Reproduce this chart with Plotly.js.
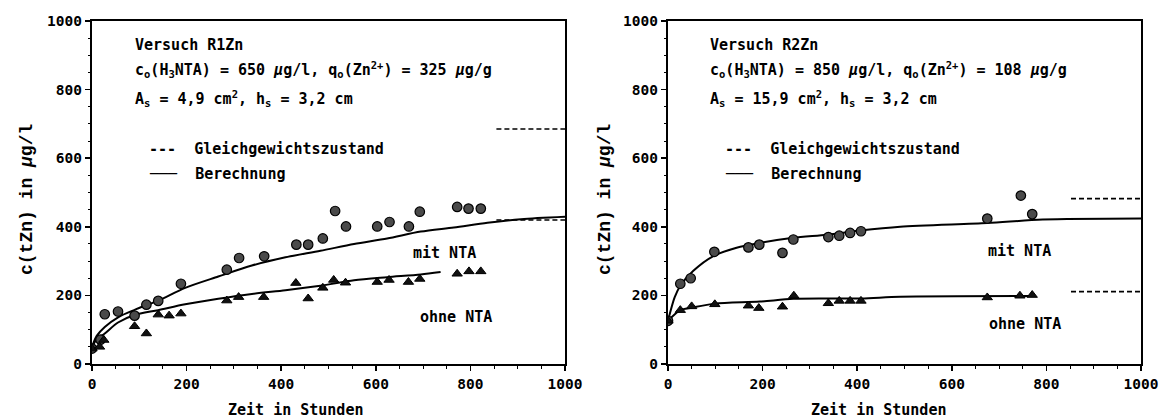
<!DOCTYPE html>
<html>
<head>
<meta charset="utf-8">
<script src="https://cdn.plot.ly/plotly-3.0.1.min.js"></script>
<style>html,body{margin:0;padding:0;background:#fff;}#plot{width:1167px;height:419px;}</style>
</head>
<body>
<div id="plot"></div>
<script>
// ---------- Data: Versuch R1Zn (left) ----------
var r1MitX = [0, 18, 27, 55, 90, 115, 140, 188, 285, 311, 364, 432, 457, 488, 514, 537, 603, 629, 670, 693, 772, 796, 822];
var r1MitY = [45, 71, 145, 153, 141, 173, 184, 234, 275, 309, 314, 348, 348, 366, 446, 401, 401, 414, 401, 444, 458, 453, 453];
var r1OhneX = [0, 16, 25, 90, 115, 140, 163, 188, 285, 310, 363, 431, 457, 488, 511, 536, 603, 628, 669, 693, 772, 797, 822];
var r1OhneY = [45, 50, 70, 110, 89, 144, 141, 147, 185, 195, 195, 236, 191, 222, 245, 237, 239, 245, 239, 248, 263, 270, 270];
var r1CalcMitX = [0, 10, 27, 56, 90, 140, 197, 267, 338, 409, 483, 554, 624, 695, 765, 836, 907, 1000];
var r1CalcMitY = [50, 82, 108, 137, 158, 185, 222, 255, 287, 311, 330, 350, 366, 386, 398, 412, 422, 429];
var r1CalcOhneX = [0, 10, 27, 55, 90, 140, 197, 267, 338, 409, 483, 554, 624, 695, 737];
var r1CalcOhneY = [50, 72, 89, 121, 143, 157, 174, 190, 204, 215, 228, 244, 253, 261, 268];
var r1EqX = [855, 1000];
var r1EqMit = [685, 685];
var r1EqOhne = [420, 420];

// ---------- Data: Versuch R2Zn (right) ----------
var r2MitX = [0, 26, 48, 98, 170, 193, 242, 265, 339, 362, 385, 408, 675, 746, 770];
var r2MitY = [126, 234, 250, 327, 340, 348, 324, 363, 370, 374, 382, 387, 424, 491, 437];
var r2OhneX = [0, 26, 50, 99, 170, 192, 242, 266, 339, 362, 385, 408, 675, 744, 770];
var r2OhneY = [126, 157, 168, 174, 170, 163, 167, 199, 177, 184, 184, 184, 194, 199, 201];
var r2CalcMitX = [0, 14, 26, 53, 95, 145, 194, 265, 336, 406, 491, 675, 792, 1000];
var r2CalcMitY = [126, 194, 228, 271, 314, 339, 353, 368, 377, 389, 400, 411, 421, 424];
var r2CalcOhneX = [0, 26, 50, 99, 194, 265, 408, 491, 770];
var r2CalcOhneY = [126, 157, 164, 176, 182, 190, 191, 196, 198];
var r2EqX = [852, 1000];
var r2EqMit = [482, 482];
var r2EqOhne = [211, 211];

// ---------- Text ----------
var tickVals = [0, 200, 400, 600, 800, 1000];
var tickText = ['0', '200', '400', '600', '800', '1000'];
var xTitle = 'Zeit in Stunden';
var yTitle = 'c(tZn) in <i>µ</i>g/l';
var r1Lines = ['Versuch R1Zn',
  'c<sub>o</sub>(H<sub>3</sub>NTA) = 650 <i>µ</i>g/l, q<sub>o</sub>(Zn<sup>2+</sup>) = 325 <i>µ</i>g/g',
  'A<sub>s</sub> = 4,9 cm<sup>2</sup>, h<sub>s</sub> = 3,2 cm'];
var r2Lines = ['Versuch R2Zn',
  'c<sub>o</sub>(H<sub>3</sub>NTA) = 850 <i>µ</i>g/l, q<sub>o</sub>(Zn<sup>2+</sup>) = 108 <i>µ</i>g/g',
  'A<sub>s</sub> = 15,9 cm<sup>2</sup>, h<sub>s</sub> = 3,2 cm'];
var legendEq = '---  Gleichgewichtszustand';
var legendCalc = '\u2500\u2500\u2500  Berechnung';
var labelMit = 'mit NTA';
var labelOhne = 'ohne NTA';

var MONO = 'DejaVu Sans Mono';
var W = 1167, H = 419;
function px(v){return v/W;}
function py(v){return 1 - v/H;}

var circ = {symbol:'circle', size:9.5, color:'#4a4a4a', line:{color:'#000', width:1.2}};
var tri = {symbol:'triangle-up', size:9, color:'#111', line:{color:'#000', width:1}};
var calcLine = {color:'#000', width:2, shape:'spline', smoothing:0.8};
var eqLine = {color:'#000', width:1.6, dash:'5px,3px'};

function traces(xa, ya, mx, my, ox, oy, cmx, cmy, cox, coy, ex, em, eo){
  return [
    {x:cmx, y:cmy, xaxis:xa, yaxis:ya, mode:'lines', line:calcLine, hoverinfo:'skip'},
    {x:cox, y:coy, xaxis:xa, yaxis:ya, mode:'lines', line:calcLine, hoverinfo:'skip'},
    {x:ex, y:em, xaxis:xa, yaxis:ya, mode:'lines', line:eqLine, hoverinfo:'skip'},
    {x:ex, y:eo, xaxis:xa, yaxis:ya, mode:'lines', line:eqLine, hoverinfo:'skip'},
    {x:mx, y:my, xaxis:xa, yaxis:ya, mode:'markers', marker:circ},
    {x:ox, y:oy, xaxis:xa, yaxis:ya, mode:'markers', marker:tri}
  ];
}

var data = [].concat(
  traces('x','y', r1MitX, r1MitY, r1OhneX, r1OhneY, r1CalcMitX, r1CalcMitY, r1CalcOhneX, r1CalcOhneY, r1EqX, r1EqMit, r1EqOhne),
  traces('x2','y2', r2MitX, r2MitY, r2OhneX, r2OhneY, r2CalcMitX, r2CalcMitY, r2CalcOhneX, r2CalcOhneY, r2EqX, r2EqMit, r2EqOhne)
);

function ax(dom, anchor, minorLen){
  return {domain:dom, anchor:anchor, range:[0,1000], tickvals:tickVals, ticktext:tickText,
    showgrid:false, zeroline:false, showline:true, linecolor:'#000', linewidth:2.2, mirror:true,
    ticks:'outside', ticklen:5, tickwidth:1.5, tickcolor:'#000',
    minor:{dtick:50, ticks:'outside', ticklen:minorLen, tickwidth:1, tickcolor:'#000'},
    tickfont:{family:MONO, size:14.5, color:'#000', weight:'bold'}, automargin:false, fixedrange:true};
}

var yDom = [py(364), py(21)];
var ann = [];
function txt(xref, yref, x, y, t, size, anchor){
  ann.push({xref:xref, yref:yref, x:x, y:y, text:t, showarrow:false, xanchor:anchor||'left', yanchor:'middle',
    font:{family:MONO, size:size||15, color:'#000', weight:'bold'}});
}
// left panel text
txt('x','y', 86, 930, r1Lines[0]);
txt('x','y', 86, 858, r1Lines[1]);
txt('x','y', 86, 774, r1Lines[2]);
txt('x','y', 116, 626, legendEq);
txt('x','y', 116, 553, legendCalc);
txt('x','y', 745, 325, labelMit, 15, 'center');
txt('x','y', 769, 136, labelOhne, 15, 'center');
// right panel text
txt('x2','y2', 85, 930, r2Lines[0]);
txt('x2','y2', 85, 858, r2Lines[1]);
txt('x2','y2', 85, 774, r2Lines[2]);
txt('x2','y2', 116, 626, legendEq);
txt('x2','y2', 116, 553, legendCalc);
txt('x2','y2', 743, 329, labelMit, 15, 'center');
txt('x2','y2', 754, 117, labelOhne, 15, 'center');
// axis titles
txt('paper','paper', px(295), py(410), xTitle, 15, 'center');
txt('paper','paper', px(878), py(410), xTitle, 15, 'center');
ann.push({xref:'paper', yref:'paper', x:px(27), y:py(200), text:yTitle, showarrow:false, textangle:-90,
  xanchor:'center', yanchor:'middle', font:{family:'Liberation Mono', size:18, color:'#000', weight:'bold'}});
ann.push({xref:'paper', yref:'paper', x:px(605), y:py(200), text:yTitle, showarrow:false, textangle:-90,
  xanchor:'center', yanchor:'middle', font:{family:'Liberation Mono', size:18, color:'#000', weight:'bold'}});

var layout = {
  width:W, height:H, margin:{l:0, r:0, t:0, b:0}, showlegend:false,
  paper_bgcolor:'#fff', plot_bgcolor:'#fff',
  xaxis: ax([px(92), px(565)], 'y', 3),
  yaxis: ax(yDom, 'x', 2),
  xaxis2: ax([px(668), px(1141)], 'y2', 3),
  yaxis2: ax(yDom, 'x2', 2),
  annotations: ann
};

Plotly.newPlot('plot', data, layout, {staticPlot:true, displayModeBar:false});
</script>
</body>
</html>
